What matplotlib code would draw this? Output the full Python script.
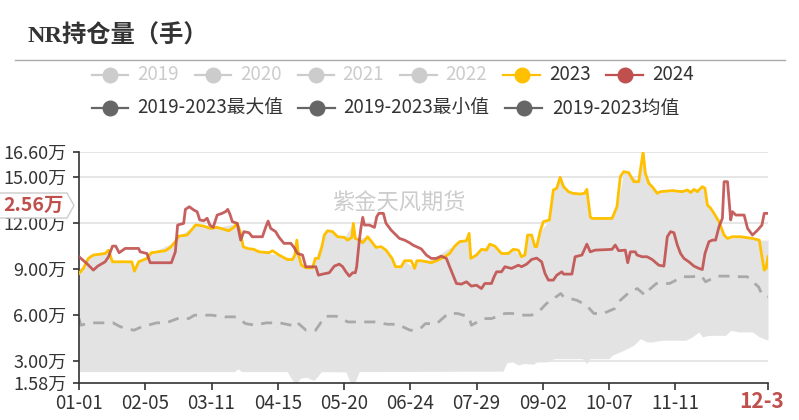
import matplotlib
matplotlib.use("Agg")
import matplotlib.pyplot as plt
from matplotlib.lines import Line2D
from matplotlib.patches import Polygon
from matplotlib.transforms import Bbox
import numpy as np

plt.rcParams['font.family'] = ['Noto Sans CJK SC', 'DejaVu Sans']

W, H = 799, 420

# ---------------- data (day of year, value in 万手) ----------------
y2023_days = [0, 2.3, 4.9, 7.6, 13.8, 15.6, 16.4, 17.7, 27.9, 29.3, 31.5, 35.9, 38.2, 45.6, 48.3, 50.9, 52.7, 57.1, 59.7, 61.5,
              62.4, 65.9, 69.5, 73, 76.5, 79.2, 81.8, 83.6, 85, 86.8, 88.9, 92.4, 95.1, 100.4, 102.2, 105.7, 110.1, 112.8, 114, 115.1, 115.8, 117.5, 119.8,
              123.4, 124.8, 126.5, 128.3, 129.6, 131.3, 134, 136.6, 140.2, 141.9, 144.2, 144.9, 146, 148.1, 149.9, 152.5, 155.2, 156.9, 159.6, 162.2, 165.4, 167.2, 170.2, 172, 175.5, 177.3, 178.5,
              180.8, 186.1, 189.6, 193.2, 195.8, 198.5, 201.1, 204.7, 206.1, 207, 210, 212.6, 215.3, 217, 219.7, 223.2, 226.8, 229.4, 232.1, 233.8, 235.6, 237, 239.1, 240.9,
              241.8, 243.6, 245.3, 248.5, 250.6, 252.4, 254.2, 255.9, 258.6, 260.9, 264.8, 267, 268.3, 270.1, 271, 281.6, 284.2, 286, 287.8, 290.4, 293.1, 295.7, 298, 299.2, 301,
              302.8, 305.5, 307.2, 313.4, 318.7, 321.4, 323.1, 324.9, 326.7, 329.3, 330.7, 332, 333.7, 335.5, 338.1, 340.8, 342.6, 345.2, 349.6, 355.8, 359.4, 360.8, 362, 363, 364]
y2023_vals = [8.70, 9.03, 9.68, 9.90, 10.00, 10.22, 9.90, 9.46, 9.46, 8.85, 9.46, 9.68, 10.05, 10.18, 10.40, 10.77, 11.13, 11.20, 11.57, 11.85,
              11.85, 11.78, 11.63, 11.70, 11.57, 11.48, 11.70, 11.96, 11.48, 10.44, 10.33, 10.27, 10.11, 10.05, 10.18, 9.90, 9.61, 9.61, 9.90, 10.87, 10.00, 9.24, 9.07,
              9.07, 9.68, 9.68, 10.44, 11.20, 11.48, 11.42, 11.09, 11.05, 10.87, 11.05, 11.96, 10.98, 10.87, 10.70, 11.09, 10.66, 10.40, 10.44, 10.22, 9.68, 9.14, 9.14, 9.53, 9.53, 9.03, 9.53,
              9.53, 9.40, 9.57, 9.79, 10.00, 10.48, 10.77, 10.83, 11.31, 9.68, 9.90, 10.27, 10.22, 10.61, 10.48, 10.00, 10.00, 10.27, 10.22, 9.79, 9.90, 11.20, 11.20, 10.44,
              10.44, 11.42, 12.07, 12.18, 14.13, 14.24, 14.96, 14.35, 14.02, 13.91, 13.87, 13.91, 14.17, 12.39, 12.28, 12.28, 13.04, 15.00, 15.32, 15.26, 14.67, 14.67, 16.60, 15.22, 14.56,
              14.35, 13.91, 14.02, 14.09, 14.02, 14.13, 13.96, 14.17, 14.02, 14.35, 14.24, 13.15, 12.94, 12.61, 12.07, 11.20, 10.98, 11.09, 11.09, 10.98, 10.87, 9.79, 8.92, 9.03, 9.79]

y2024_days = [0, 4.1, 7.6, 9.9, 13.8, 15.6, 17.7, 19.4, 21.2, 24.4, 31.5, 32.3, 35.9, 37.6, 48.8, 50.9, 52.1, 55.3, 56.2, 58.3, 60.6, 62.4, 63.8, 65.9, 67.7, 69.1, 70.9,
              73, 75.6, 77.4, 78.6, 79.7, 81, 83.6, 85.4, 87.1, 89.8, 91.5, 96.9, 98.6, 99.9, 101.3, 103.9, 105.7, 108.3, 111.9, 113.6, 115.4, 118.1, 119.8,
              125.1, 126.5, 128.7, 132.2, 134.9, 137.5, 139.3, 141, 142.8, 144.6, 146, 146.7, 148.1, 149, 149.9, 150.8, 153.4, 156.1, 157.3, 158.4, 160.8, 162.2, 164.9, 167.5, 169.3, 172, 174.6, 176.4, 179,
              180.8, 183.5, 186.1, 188.7, 191.4, 194.1, 195.8, 197.6, 199.4, 202, 204.7, 207.3, 210, 212.6, 214.4, 217.9, 219.3, 220.6, 223.2, 225, 228.5, 232.1, 233.8, 236.5, 239.1,
              241.8, 244.4, 246.2, 248, 250.6, 252.4, 255.1, 256, 260.4, 262.1, 265.7, 268.3, 270.1, 272.7, 281.6, 283.3, 285.1, 288.6, 289.9, 291.3, 293.9, 294.8, 297.5, 300.1,
              302.8, 306.3, 309, 310.8, 312.5, 314.3, 316.1, 317.8, 319.6, 322.2, 324.9, 327.5, 329.3, 330.7, 332.8, 334.6, 336.3, 338.1, 339.9, 340.8, 342.6, 344.3, 345.2, 347, 351.4, 353.2, 355.8, 358.5, 360.8, 362, 364]
y2024_vals = [9.79, 9.35, 8.92, 9.18, 9.46, 9.79, 10.48, 10.48, 10.05, 10.33, 10.33, 10.11, 10.00, 9.40, 9.40, 10.11, 11.85, 11.96, 12.87, 13.04, 12.83, 12.72, 12.18, 12.13, 12.29, 11.85, 11.70,
              12.50, 12.61, 12.72, 12.87, 12.57, 12.07, 11.96, 10.87, 11.42, 11.35, 11.09, 11.09, 11.70, 12.11, 11.63, 11.42, 11.05, 10.66, 10.66, 10.40, 10.00, 9.90, 9.14,
              9.14, 8.59, 8.66, 8.75, 9.18, 9.31, 9.14, 8.81, 8.53, 8.75, 8.75, 9.14, 10.87, 11.70, 12.35, 11.85, 11.85, 11.70, 12.39, 12.61, 12.61, 11.96, 11.52, 11.20, 10.98, 10.87, 10.70, 10.55, 10.40,
              10.30, 9.90, 9.68, 9.68, 9.83, 9.68, 9.14, 8.59, 8.05, 8.01, 8.16, 7.88, 7.94, 7.72, 8.05, 8.05, 8.49, 8.81, 8.81, 9.14, 9.03, 9.24, 9.14, 9.31, 9.61,
              9.70, 9.46, 8.70, 8.27, 8.27, 8.59, 8.81, 8.66, 8.66, 9.79, 9.90, 10.61, 10.11, 10.22, 10.27, 10.55, 10.18, 10.22, 9.40, 10.11, 10.11, 9.90, 9.79, 9.79,
              9.61, 9.24, 9.18, 11.09, 11.42, 11.35, 10.55, 10.00, 9.68, 9.46, 9.18, 9.03, 8.96, 10.00, 10.77, 10.87, 10.87, 11.74, 12.28, 14.67, 14.67, 12.18, 12.72, 12.50, 12.50, 11.63, 11.20, 11.52, 11.85, 12.61, 12.61]

max_days = [0, 4.9, 7.6, 15.6, 17.7, 27.9, 29.3, 31.5, 38.2, 50.9, 52.7, 61.5, 69.5, 83.6, 85, 86.8, 95.1, 105.7, 112.8, 115.1, 117.5, 119.8, 123.4, 124.8, 129.6, 131.3,
            140.2, 144.9, 146, 152.5, 156.9, 162.2, 165.4, 167.2, 170.2, 172, 177.3, 178.5, 186, 190, 195, 198.5, 201.1, 204.7, 206.1, 207, 212.6, 217, 223.2, 229.4, 233.8, 237, 239.1, 240.9,
            243.6, 248.5, 250.6, 254.2, 258.6, 264.8, 268.3, 270.1, 281.6, 284.2, 287.8, 290.4, 295.7, 298, 299.2, 302.8, 305.5, 313.4, 324.9, 329.3, 330.7, 332, 335.5, 338.1, 340.8, 342.6, 349.6, 355.8, 359.4, 364]
max_vals = [8.70, 9.68, 9.90, 10.22, 9.46, 9.46, 8.85, 9.46, 10.05, 10.77, 11.13, 11.85, 11.63, 11.96, 11.48, 10.44, 10.11, 9.90, 9.61, 10.87, 9.24, 9.07, 9.07, 9.68, 11.20, 11.48,
            11.05, 11.96, 10.98, 11.09, 10.40, 10.22, 9.68, 9.14, 9.14, 9.53, 9.03, 9.53, 9.60, 9.90, 10.33, 10.48, 10.77, 10.83, 11.31, 9.68, 10.27, 10.61, 10.00, 10.27, 9.79, 11.20, 11.20, 10.44,
            11.42, 12.18, 14.13, 14.96, 14.02, 13.87, 14.17, 12.39, 12.28, 13.04, 15.32, 15.26, 14.67, 16.60, 15.22, 14.35, 13.91, 14.09, 14.17, 14.35, 14.24, 13.15, 12.61, 12.07, 11.20, 10.98, 11.09, 10.98, 10.87, 10.87]

min_days = [0, 82, 84, 86, 110, 113, 115, 117, 120, 124, 126, 128, 141, 143, 144.5, 146, 148, 224, 226, 229, 232, 235, 240, 242, 247, 251, 266, 268.3, 270, 280,
            281.6, 287.8, 293, 296.6, 300, 302.8, 308, 320.5, 324, 327.5, 329.3, 332.8, 341.7, 344.3, 348.8, 355.8, 359.4, 364]
min_vals = [2.32, 2.32, 2.50, 2.32, 2.32, 1.70, 1.58, 1.90, 1.95, 1.75, 2.00, 2.32, 2.30, 1.70, 1.60, 1.70, 2.32, 2.35, 2.90, 2.95, 2.75, 2.85, 2.80, 2.95, 2.95, 3.16, 3.16, 2.84, 3.16, 3.16,
            3.38, 3.71, 4.03, 4.47, 4.25, 4.25, 4.36, 4.36, 4.58, 4.90, 4.58, 4.68, 4.68, 5.00, 4.90, 4.90, 4.58, 4.36]

mean_days = [0, 1, 6, 13, 18, 22, 29, 33, 41, 46, 53, 58, 61, 70, 77, 83, 88, 93, 99, 106, 112, 114, 115.5, 120, 125, 130, 136, 142, 146, 151, 156, 163, 168, 175, 178, 181,
             183, 189, 195, 200, 206, 207.3, 214, 218, 225, 229, 235, 239, 243.6, 247, 252, 254.5, 256, 263, 268, 272, 277, 283, 286, 291, 295, 299, 300, 305, 312, 319, 323, 329, 331,
             337, 343, 349, 353, 356, 359, 361, 364]
mean_vals = [5.77, 5.34, 5.49, 5.49, 5.49, 5.23, 5.01, 5.23, 5.49, 5.49, 5.81, 5.77, 5.99, 5.99, 5.88, 5.88, 5.44, 5.34, 5.49, 5.49, 5.34, 5.27, 5.49, 5.01, 5.01, 5.92, 5.92, 5.55, 5.55, 5.55,
             5.55, 5.40, 5.40, 5.01, 5.01, 5.20, 5.44, 5.44, 6.10, 6.10, 5.88, 5.34, 5.77, 5.77, 6.10, 6.10, 5.99, 5.99, 6.31, 6.75, 7.18, 7.40, 7.18, 6.96, 6.64, 6.10, 6.10, 6.42, 6.96,
             7.51, 7.72, 7.29, 7.51, 8.05, 8.05, 8.49, 8.49, 8.53, 8.16, 8.53, 8.53, 8.49, 8.49, 8.16, 7.83, 7.29, 7.18]

tick_days = [0, 35, 70, 105, 140, 175, 210, 245, 280, 315]
tick_labels = ['01-01', '02-05', '03-11', '04-15', '05-20', '06-24', '07-29', '09-02', '10-07', '11-11']
last_day, last_label = 364, '12-30'
y_ticks = [1.58, 3, 6, 9, 12, 15, 16.60]
pointer_label = '2.56万'

legend_row1 = ['2019', '2020', '2021', '2022', '2023', '2024']
legend_row2 = ['2019-2023最大值', '2019-2023最小值', '2019-2023均值']

# ---------------- figure ----------------
C23, C24 = '#FFC000', '#C0504D'
fig = plt.figure(figsize=(W / 100, H / 100), dpi=100)


def fx(x):
    return x / W


def fy(y):
    return 1 - y / H


ax = fig.add_axes([fx(79), fy(383), fx(768 - 79), (383 - 152) / H])

grid = np.union1d(np.array(max_days, float), np.array(min_days, float))
ax.fill_between(grid, np.interp(grid, min_days, min_vals), np.interp(grid, max_days, max_vals),
                color='#e3e3e3', lw=0, zorder=1)

ax.plot(mean_days, mean_vals, color='#a9a9a9', lw=2.0, ls=(0, (4, 3)), zorder=2)
ax.plot(y2023_days, y2023_vals, color=C23, lw=2.0, zorder=3, solid_joinstyle='round')
ax.plot(y2024_days, y2024_vals, color=C24, lw=2.0, zorder=4, alpha=0.9, solid_joinstyle='round')

ax.set_xlim(0, last_day)
ax.set_ylim(y_ticks[0], y_ticks[-1])
ax.set_yticks(y_ticks)
ax.set_yticklabels([f'{v:.2f}万' for v in y_ticks])
ax.set_xticks(tick_days + [last_day])
ax.set_xticklabels(tick_labels + [''])
for yv in y_ticks[1:]:
    ax.axhline(yv, color='#e6e6e6', lw=1.4, zorder=0)
for s in ['top', 'right']:
    ax.spines[s].set_visible(False)
for s in ['left', 'bottom']:
    ax.spines[s].set_color('#333333')
    ax.spines[s].set_linewidth(1.2)
ax.tick_params(axis='y', length=4, width=1.2, color='#333333', labelsize=13, labelcolor='#333333', pad=5)
ax.tick_params(axis='x', length=5, width=1.2, color='#333333', labelsize=13.5, labelcolor='#333333', pad=2)
ax.set_facecolor('none')

# red last-date label (clipped at right)
t = ax.text(last_day, y_ticks[0] - 0.55, last_label, ha='center', va='top', fontsize=15,
            fontweight='bold', color=C24)
t.set_clip_on(True)
t.set_clip_box(Bbox([[0, 0], [784, H]]))

# title and separator
fig.text(fx(28), fy(36), 'NR持仓量（手）', ha='left', va='center', fontsize=17.5, fontweight='bold',
         color='#333333', family=['Liberation Serif', 'Noto Sans CJK SC'])
fig.add_artist(Line2D([fx(15), fx(785)], [fy(60), fy(60)], color='#aaaaaa', lw=1.0))

# watermark
fig.text(fx(399), fy(203), '紫金天风期货', ha='center', va='center', fontsize=16, color='#cccccc', zorder=5)

# pointer tag on y axis
tag = Polygon([(fx(-5), fy(193)), (fx(67), fy(193)), (fx(74), fy(205.5)), (fx(67), fy(218)), (fx(-5), fy(218))],
              closed=True, transform=fig.transFigure, facecolor='white', edgecolor='#cccccc', lw=1.0, zorder=10)
fig.add_artist(tag)
fig.text(fx(34), fy(205.5), pointer_label, ha='center', va='center', fontsize=14, fontweight='bold', color=C24, zorder=11)

# legend
row1_pos = [(92, 128, 137), (195, 231, 240), (298, 334, 342), (400, 437, 445), (503, 540, 549), (606, 643, 652)]
row1_col = ['#cccccc', '#cccccc', '#cccccc', '#cccccc', C23, C24]
row1_txt = ['#cccccc', '#cccccc', '#cccccc', '#cccccc', '#333333', '#333333']
row2_pos = [(92, 128, 137), (298, 335, 343), (505, 542, 552)]


def legend_item(x1, x2, tx, y, col, tcol, label):
    fig.add_artist(Line2D([fx(x1), fx(x2)], [fy(y), fy(y)], color=col, lw=1.6))
    fig.add_artist(Line2D([fx((x1 + x2) / 2)], [fy(y)], marker='o', markersize=10.5, color=col, lw=0))
    fig.text(fx(tx), fy(y), label, ha='left', va='center', fontsize=13.5, color=tcol)


for (x1, x2, tx), c, tc, lab in zip(row1_pos, row1_col, row1_txt, legend_row1):
    legend_item(x1, x2, tx, 75, c, tc, lab)
for (x1, x2, tx), lab in zip(row2_pos, legend_row2):
    legend_item(x1, x2, tx, 108, '#666666', '#333333', lab)

fig.savefig('out.png', dpi=100)
